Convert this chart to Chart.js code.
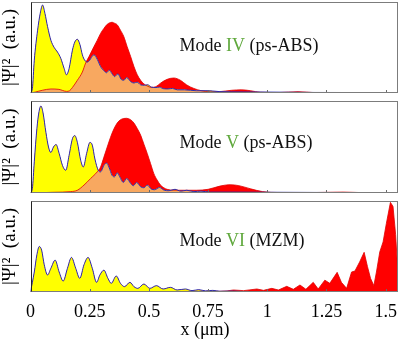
<!DOCTYPE html>
<html><head><meta charset="utf-8">
<script src="https://cdn.jsdelivr.net/npm/chart.js@4/dist/chart.umd.min.js"></script>
<style>
html,body{margin:0;padding:0;background:#fff;}
#wrap{position:relative;width:399px;height:339px;overflow:hidden;background:#fff;}
canvas{position:absolute;left:0;}
</style></head><body>
<div id="wrap">
<canvas id="c1" width="399" height="96" style="top:0px;width:399px;height:96px"></canvas>
<canvas id="c2" width="399" height="101" style="top:96px;width:399px;height:101px"></canvas>
<canvas id="c3" width="399" height="142" style="top:197px;width:399px;height:142px"></canvas>
</div>
<script>
// ---------- data ----------
const tickVals   = [0, 0.25, 0.5, 0.75, 1, 1.25, 1.5];
const tickLabels = ['0', '0.25', '0.5', '0.75', '1', '1.25', '1.5'];
const modeNames  = ['IV', 'V', 'VI'];
const modeTypes  = ['(ps-ABS)', '(ps-ABS)', '(MZM)'];
const xTitle = 'x (μm)';
const yTitle = '|Ψ|²  (a.u.)';

// Panel 1 (Mode IV)
const y1x = [0,0.008,0.016,0.030,0.041,0.051,0.061,0.072,0.086,0.100,0.114,0.128,0.142,0.152,0.163,0.177,0.187,0.198,0.209,0.219,0.229,0.240,0.250,0.257,0.268,0.282,0.296,0.310,0.321,0.333,0.345,0.355,0.369,0.383,0.394,0.406,0.423,0.437,0.450,0.465,0.480,0.495,0.510,0.530,0.545,0.560,0.580,0.600,0.620,0.650,0.700,0.750,0.800,0.900,1.000,1.200,1.400,1.552];
const y1v = [0,0.05,0.36,0.69,0.875,0.967,0.875,0.73,0.58,0.50,0.45,0.38,0.27,0.20,0.27,0.47,0.56,0.59,0.53,0.42,0.36,0.34,0.36,0.39,0.42,0.37,0.29,0.245,0.223,0.25,0.21,0.18,0.21,0.15,0.14,0.17,0.125,0.11,0.12,0.09,0.085,0.09,0.065,0.06,0.065,0.048,0.045,0.05,0.035,0.035,0.025,0.025,0.015,0.012,0.01,0.006,0.005,0.004];
const r1x = [0,0.02,0.05,0.086,0.12,0.152,0.165,0.177,0.198,0.219,0.233,0.247,0.268,0.282,0.296,0.310,0.324,0.338,0.345,0.352,0.366,0.380,0.394,0.408,0.423,0.437,0.451,0.465,0.479,0.493,0.510,0.530,0.550,0.577,0.605,0.633,0.660,0.690,0.720,0.760,0.800,0.850,0.890,0.930,0.970,1.050,1.130,1.200,1.350,1.552];
const r1v = [0,0.01,0.03,0.044,0.04,0.018,0.025,0.06,0.14,0.23,0.33,0.40,0.51,0.58,0.655,0.71,0.755,0.775,0.777,0.77,0.75,0.69,0.62,0.51,0.40,0.29,0.20,0.14,0.10,0.077,0.062,0.07,0.11,0.15,0.165,0.14,0.088,0.05,0.026,0.012,0.015,0.03,0.035,0.025,0.008,0.005,0.015,0.004,0.002,0.001];

// Panel 2 (Mode V)
const y2x = [0,0.008,0.016,0.027,0.035,0.044,0.053,0.065,0.076,0.086,0.097,0.108,0.121,0.135,0.149,0.163,0.177,0.187,0.198,0.212,0.223,0.237,0.251,0.261,0.272,0.286,0.296,0.310,0.321,0.331,0.345,0.355,0.366,0.377,0.392,0.406,0.423,0.434,0.448,0.465,0.479,0.493,0.510,0.524,0.545,0.565,0.585,0.610,0.635,0.660,0.690,0.720,0.760,0.850,1.000,1.200,1.552];
const y2v = [0,0.05,0.34,0.70,0.87,0.946,0.87,0.66,0.50,0.44,0.50,0.527,0.43,0.30,0.247,0.41,0.59,0.624,0.55,0.355,0.283,0.43,0.55,0.52,0.37,0.247,0.23,0.30,0.326,0.283,0.19,0.176,0.22,0.176,0.115,0.158,0.104,0.079,0.115,0.068,0.057,0.086,0.043,0.036,0.06,0.03,0.025,0.04,0.02,0.03,0.015,0.02,0.01,0.01,0.008,0.006,0.004];
const r2x = [0,0.10,0.17,0.198,0.226,0.254,0.282,0.296,0.310,0.324,0.338,0.352,0.366,0.380,0.394,0.406,0.423,0.437,0.451,0.465,0.479,0.493,0.507,0.521,0.535,0.549,0.563,0.577,0.605,0.650,0.700,0.750,0.800,0.843,0.880,0.930,0.980,1.050,1.200,1.320,1.400,1.552];
const r2v = [0,0.008,0.015,0.03,0.086,0.158,0.23,0.283,0.39,0.50,0.606,0.695,0.76,0.796,0.81,0.812,0.796,0.76,0.70,0.63,0.53,0.43,0.32,0.21,0.14,0.086,0.057,0.04,0.03,0.03,0.03,0.04,0.075,0.09,0.08,0.045,0.015,0.005,0.005,0.01,0.004,0.002];

// Panel 3 (Mode VI)
const y3x = [0,0.016,0.027,0.037,0.047,0.058,0.072,0.086,0.104,0.121,0.138,0.156,0.173,0.191,0.208,0.226,0.243,0.261,0.279,0.293,0.310,0.327,0.341,0.362,0.380,0.397,0.420,0.437,0.453,0.479,0.504,0.532,0.560,0.591,0.619,0.654,0.682,0.710,0.740,0.770,0.800,0.850,0.900,1.000,1.200,1.552];
const y3v = [0,0.22,0.41,0.50,0.46,0.30,0.187,0.26,0.35,0.22,0.12,0.26,0.38,0.26,0.15,0.30,0.38,0.26,0.106,0.187,0.24,0.15,0.095,0.176,0.095,0.059,0.106,0.059,0.04,0.088,0.04,0.07,0.033,0.051,0.022,0.033,0.015,0.026,0.012,0.018,0.008,0.01,0.005,0.004,0.003,0.002];
const r3x = [0,0.30,0.60,0.72,0.78,0.83,0.857,0.900,0.956,0.984,1.019,1.047,1.082,1.110,1.138,1.163,1.194,1.215,1.243,1.264,1.295,1.313,1.335,1.356,1.370,1.390,1.409,1.423,1.436,1.450,1.461,1.475,1.489,1.503,1.520,1.531,1.542,1.552];
const r3v = [0,0.002,0.005,0.008,0.005,0.012,0.022,0.015,0.033,0.018,0.04,0.022,0.062,0.03,0.077,0.03,0.106,0.033,0.13,0.095,0.216,0.106,0.04,0.22,0.23,0.33,0.436,0.28,0.15,0.07,0.22,0.44,0.55,0.755,0.985,0.94,0.63,0.19];

// ---------- style ----------
const YELLOW = '#FFFF00', RED = '#FF0000', ORANGE = '#F8A860', BLUE = '#2B2BB0', REDLINE = '#E00000', GREEN = '#5FA83C';
const SERIF = '"Liberation Serif", "Times New Roman", serif';

const framePlugin = {
  id: 'frame',
  afterDraw(chart, args, opts) {
    const {ctx, chartArea: a} = chart;
    const xs = chart.scales.x;
    ctx.save();
    ctx.strokeStyle = '#6a6a6a'; ctx.lineWidth = 1;
    tickVals.forEach(v => {
      const px = Math.round(xs.getPixelForValue(v)) + 0.5;
      ctx.beginPath(); ctx.moveTo(px, a.bottom); ctx.lineTo(px, a.bottom - 3); ctx.stroke();
    });
    const L = Math.round(a.left) + 0.5, T = Math.round(a.top) + 0.5, R = Math.round(a.right) - 0.5, B = Math.round(a.bottom) - 0.5;
    ctx.strokeStyle = '#7c7c7c';
    ctx.strokeRect(L, T, R - L, B - T);
    ctx.strokeStyle = '#222';
    ctx.beginPath(); ctx.moveTo(L, T); ctx.lineTo(L, B); ctx.stroke();
    // mode label
    ctx.font = '18px ' + SERIF; ctx.textBaseline = 'middle'; ctx.textAlign = 'left';
    let x = opts.x;
    opts.parts.forEach(p => { ctx.fillStyle = p[1]; ctx.fillText(p[0], x, opts.y); x += ctx.measureText(p[0]).width; });
    // x-axis title (bottom panel only)
    if (opts.xTitle) {
      ctx.fillStyle = '#000'; ctx.textAlign = 'center';
      ctx.fillText(opts.xTitle, 205, chart.height - 9);
    }
    ctx.restore();
  }
};

function pts(xs, vs) { return xs.map((x, i) => ({x: x, y: vs[i]})); }

function makeChart(id, yx, yv, rx, rv, idx, opt) {
  const redMode = opt.sharpRed ? {tension: 0} : {cubicInterpolationMode: 'monotone'};
  return new Chart(document.getElementById(id), {
    type: 'line',
    data: {
      datasets: [
        {data: pts(yx, yv), borderColor: BLUE, borderWidth: 1, fill: false, pointRadius: 0, order: 0, cubicInterpolationMode: 'monotone'},
        Object.assign({data: pts(rx, rv), borderColor: REDLINE, borderWidth: 0.8, backgroundColor: RED,
          fill: {target: 2, above: RED, below: YELLOW}, pointRadius: 0, order: 1}, redMode),
        {data: pts(yx, yv), borderColor: 'rgba(0,0,0,0)', borderWidth: 0, backgroundColor: ORANGE, fill: 'origin', pointRadius: 0, order: 2, cubicInterpolationMode: 'monotone'}
      ]
    },
    options: {
      responsive: false, animation: false, devicePixelRatio: 1, events: [],
      layout: {padding: {top: opt.padTop, bottom: opt.padBottom, left: 0, right: 1}},
      plugins: {
        legend: {display: false}, tooltip: {enabled: false},
        frame: {x: 179.5, y: opt.labelY, xTitle: opt.showX ? xTitle : null,
                parts: [['Mode ', '#111'], [modeNames[idx], GREEN], [' ' + modeTypes[idx], '#111']]}
      },
      scales: {
        x: {
          type: 'linear', min: 0, max: 1.552, display: opt.showX,
          grid: {display: false}, border: {display: false},
          afterBuildTicks: s => { s.ticks = tickVals.map(v => ({value: v})); },
          ticks: {color: '#000', padding: 1, maxRotation: 0, autoSkip: false,
                  font: {family: SERIF, size: 18},
                  callback: (v, i) => tickLabels[i]},
          title: {display: false},
          afterFit: s => { s.height = opt.showX ? 47 : 0; }
        },
        y: {
          min: 0, max: 1,
          grid: {display: false}, border: {display: false},
          ticks: {display: false},
          title: {display: true, text: yTitle, color: '#000', font: {family: SERIF, size: 19, lineHeight: 1}, padding: {top: 1, bottom: 0}},
          afterFit: s => { s.width = 30.5; }
        }
      }
    },
    plugins: [framePlugin]
  });
}

makeChart('c1', y1x, y1v, r1x, r1v, 0, {padTop: 2, padBottom: 3, showX: false, labelY: 46.7, sharpRed: false});
makeChart('c2', y2x, y2v, r2x, r2v, 1, {padTop: 5, padBottom: 4, showX: false, labelY: 47.3, sharpRed: false});
makeChart('c3', y3x, y3v, r3x, r3v, 2, {padTop: 4, padBottom: 0, showX: true, labelY: 44.7, sharpRed: true});
</script>
</body></html>
